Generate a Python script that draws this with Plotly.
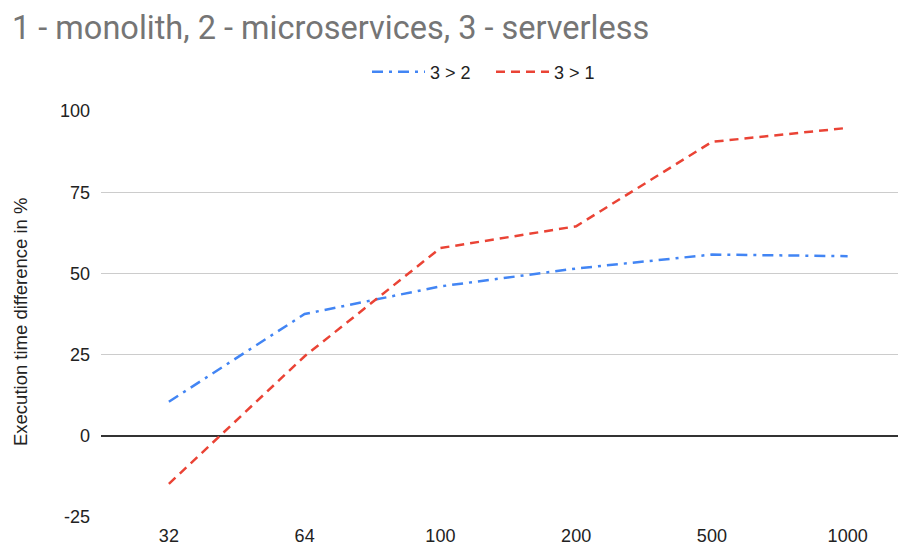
import plotly.graph_objects as go

categories = ["32", "64", "100", "200", "500", "1000"]
s32_values = [10.5, 37.5, 46.0, 51.5, 55.8, 55.3]
s31_values = [-14.8, 24.5, 57.8, 64.5, 90.5, 94.8]
y_ticks = [-25, 0, 25, 50, 75, 100]
y_tick_labels = ["-25", "0", "25", "50", "75", "100"]

# page body has an 8px margin: figure is laid out in page coords minus 8
W, H, OFF = 898, 539, 8

fig = go.Figure()
fig.add_trace(go.Scatter(x=categories, y=s32_values, mode="lines", name="3 > 2",
                         line=dict(color="#4285F4", width=2.5, dash="11px,6px,3px,6px")))
fig.add_trace(go.Scatter(x=categories, y=s31_values, mode="lines", name="3 > 1",
                         line=dict(color="#EA4335", width=2.5, dash="9px,6px")))

fig.update_layout(
    width=W, height=H,
    paper_bgcolor="white", plot_bgcolor="white",
    margin=dict(l=101 - OFF, r=0, t=111 - OFF, b=30, autoexpand=False),
    title=dict(text="1 - monolith, 2 - microservices, 3 - serverless",
               x=(12 - OFF) / W, xanchor="left", xref="container",
               y=1 - (28 - OFF) / H, yanchor="middle", yref="container",
               font=dict(family="Roboto", size=32.5, color="#757575")),
    legend=dict(orientation="h", xref="container", x=(372 - OFF - 5) / W, xanchor="left",
                yref="container", y=1 - (72 - OFF) / H, yanchor="middle",
                font=dict(family="Liberation Sans", size=18, color="#222222"),
                itemwidth=53, entrywidth=56, entrywidthmode="pixels",
                tracegroupgap=0, bgcolor="rgba(0,0,0,0)"),
    font=dict(family="Liberation Sans", size=18, color="#222222"),
    annotations=[dict(text="Execution time difference in %", textangle=-90,
                      xref="paper", yref="paper", x=(20.5 - 101) / 805, y=0.4815,
                      xanchor="center", yanchor="middle", showarrow=False,
                      font=dict(family="Liberation Sans", size=18.5, color="#222222"))],
)
fig.update_xaxes(type="category", range=[-0.5, 5.43], showgrid=False, showline=False,
                 ticks="", automargin=False, ticklabelstandoff=6,
                 tickfont=dict(size=18, color="#222222"))
fig.update_yaxes(range=[-25, 100], tickvals=y_ticks, ticktext=y_tick_labels,
                 showgrid=True, gridcolor="#cccccc",
                 gridwidth=1, zeroline=True, zerolinecolor="#333333", zerolinewidth=1.5,
                 ticks="", ticklabelstandoff=10, automargin=False,
                 tickfont=dict(size=18, color="#222222"))

fig.write_html("out.html")
